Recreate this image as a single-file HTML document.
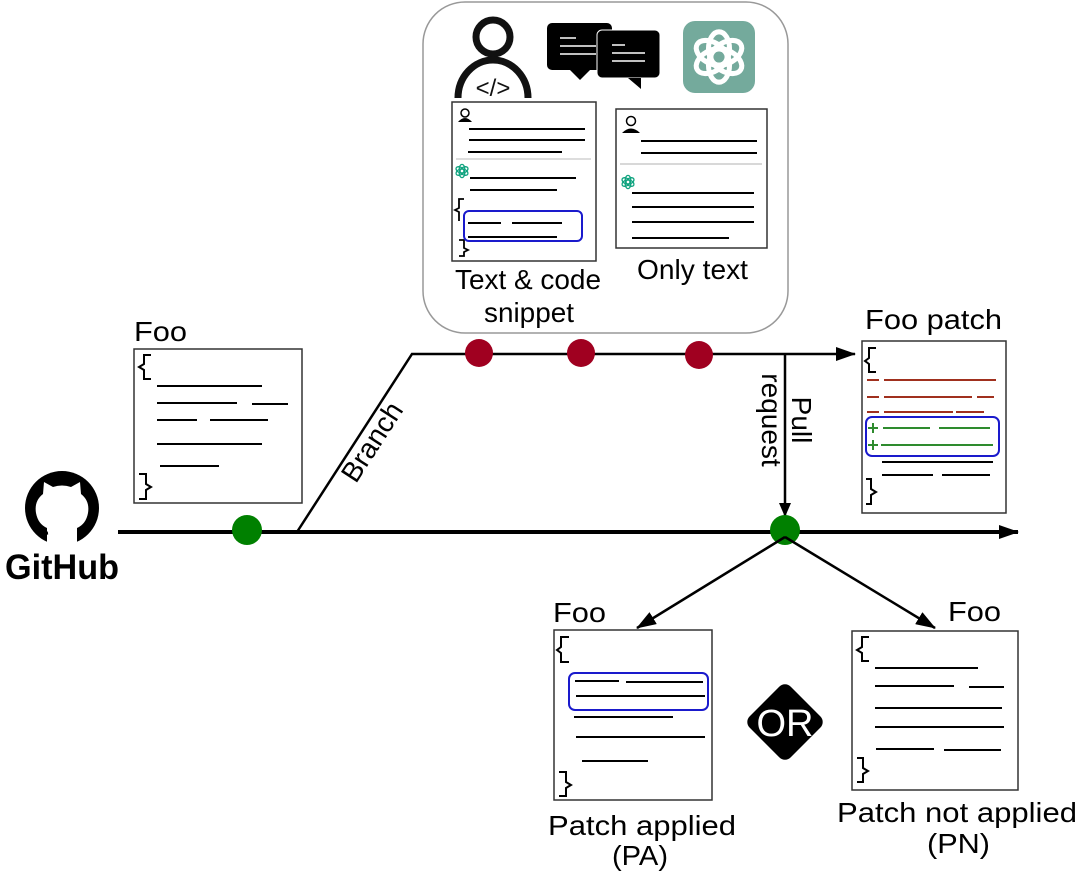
<!DOCTYPE html>
<html><head><style>
html,body{margin:0;padding:0;background:#fff;}
svg{display:block;font-family:"Liberation Sans",Arial,sans-serif;}
</style></head><body>
<svg width="1080" height="885" viewBox="0 0 1080 885" xmlns="http://www.w3.org/2000/svg">
<defs>
<marker id="ah" markerWidth="14" markerHeight="12" refX="13" refY="6" orient="auto" markerUnits="userSpaceOnUse"><path d="M0,0 L14,6 L0,12 z" fill="#000"/></marker>
<marker id="ahb" markerWidth="20" markerHeight="14" refX="19" refY="7" orient="auto" markerUnits="userSpaceOnUse"><path d="M0,0 L20,7 L0,14 z" fill="#000"/></marker>
<g id="oai"><g fill="none" stroke-width="1.2"><ellipse cx="0" cy="-2" rx="2.5" ry="4"/><ellipse cx="0" cy="-2" rx="2.5" ry="4" transform="rotate(60)"/><ellipse cx="0" cy="-2" rx="2.5" ry="4" transform="rotate(120)"/><ellipse cx="0" cy="-2" rx="2.5" ry="4" transform="rotate(180)"/><ellipse cx="0" cy="-2" rx="2.5" ry="4" transform="rotate(240)"/><ellipse cx="0" cy="-2" rx="2.5" ry="4" transform="rotate(300)"/></g></g>
</defs>

<rect x="423" y="2" width="365" height="331" rx="42" fill="#fff" stroke="#999" stroke-width="1.5"/>

<!-- person icon -->
<circle cx="493" cy="37" r="17" fill="none" stroke="#111" stroke-width="7"/>
<path d="M458,98 A35,38 0 0 1 528,98" fill="none" stroke="#111" stroke-width="7"/>
<text x="493" y="96" font-size="24" text-anchor="middle" fill="#111">&lt;/&gt;</text>

<!-- chat bubbles -->
<rect x="547" y="23" width="65" height="47" rx="5" fill="#000"/>
<path d="M570,70 L580,80 L590,70z" fill="#000"/>
<rect x="597" y="30" width="63" height="48" rx="5" fill="#000" stroke="#fff" stroke-width="1"/>
<path d="M628,78 L641,89 L641,78z" fill="#000"/>
<g stroke="#fff" stroke-width="1.5"><line x1="560" y1="38" x2="576" y2="38"/><line x1="560" y1="46" x2="596" y2="46"/><line x1="560" y1="54" x2="596" y2="54"/><line x1="612" y1="45" x2="625" y2="45"/><line x1="612" y1="53" x2="645" y2="53"/><line x1="612" y1="61" x2="645" y2="61"/></g>

<rect x="683" y="21" width="72" height="72" rx="12" fill="#74aa9c"/>
<g transform="translate(719,57) scale(4.2)" stroke="#fff"><use href="#oai"/></g>

<!-- doc 1 -->
<rect x="452" y="102" width="144" height="159" fill="#fff" stroke="#333" stroke-width="1.5"/>
<circle cx="465" cy="113" r="4" fill="none" stroke="#000" stroke-width="1.5"/><path d="M458,122 Q465,114 472,122z" fill="#000"/>
<g stroke="#000" stroke-width="2"><line x1="469" y1="129" x2="585" y2="129"/><line x1="469" y1="140" x2="585" y2="140"/><line x1="468" y1="152" x2="562" y2="152"/>
<line x1="470" y1="178" x2="576" y2="178"/><line x1="470" y1="190" x2="557" y2="190"/>
<line x1="468" y1="223" x2="501" y2="223"/><line x1="512" y1="223" x2="562" y2="223"/><line x1="468" y1="237" x2="557" y2="237"/></g>
<line x1="456" y1="159" x2="591" y2="159" stroke="#bbb" stroke-width="1"/>
<g transform="translate(462,171) scale(1.1)" stroke="#10a37f"><use href="#oai"/></g>
<path d="M464,199 L459,199 L459,208 L455,210 L459,212 L459,221" fill="none" stroke="#000" stroke-width="1.8"/>
<path d="M459,240 L464,240 L464,248 L468,250 L464,252 L464,256 L459,256" fill="none" stroke="#000" stroke-width="1.8"/>
<rect x="464" y="211" width="118" height="30" rx="5" fill="none" stroke="#1a1acc" stroke-width="2"/>

<!-- doc 2 -->
<rect x="616" y="109" width="151" height="139" fill="#fff" stroke="#333" stroke-width="1.5"/>
<circle cx="631" cy="121" r="4.5" fill="none" stroke="#000" stroke-width="1.5"/><path d="M622,133 Q631,124 640,133z" fill="#000"/>
<g stroke="#000" stroke-width="2"><line x1="641" y1="141" x2="757" y2="141"/><line x1="641" y1="153" x2="757" y2="153"/>
<line x1="632" y1="193" x2="754" y2="193"/><line x1="632" y1="207" x2="754" y2="207"/><line x1="632" y1="222" x2="754" y2="222"/><line x1="632" y1="238" x2="729" y2="238"/></g>
<line x1="620" y1="164" x2="762" y2="164" stroke="#ccc" stroke-width="1.5"/>
<g transform="translate(628,182) scale(1.1)" stroke="#10a37f"><use href="#oai"/></g>

<text x="455" y="289" font-size="28" textLength="146" lengthAdjust="spacingAndGlyphs">Text &amp; code</text>
<text x="484" y="322" font-size="28" textLength="90" lengthAdjust="spacingAndGlyphs">snippet</text>
<text x="637" y="279" font-size="28" textLength="111" lengthAdjust="spacingAndGlyphs">Only text</text>

<!-- main line -->
<line x1="118" y1="532" x2="1018" y2="532" stroke="#000" stroke-width="4" marker-end="url(#ahb)"/>
<polyline points="297,532 412,354 855,354" fill="none" stroke="#000" stroke-width="2.5" marker-end="url(#ahb)"/>
<text transform="translate(380,447) rotate(-57)" font-size="28" text-anchor="middle">Branch</text>
<line x1="785" y1="354" x2="785" y2="516" stroke="#000" stroke-width="2.5" marker-end="url(#ah)"/>
<text transform="translate(786,420) rotate(90)" font-size="28" text-anchor="middle"><tspan x="0" y="-6">Pull</tspan><tspan x="0" y="24">request</tspan></text>

<circle cx="479" cy="353" r="14" fill="#a00020"/>
<circle cx="581" cy="353" r="14" fill="#a00020"/>
<circle cx="699" cy="355" r="14" fill="#a00020"/>
<circle cx="247" cy="530" r="15" fill="#008000"/>
<circle cx="785" cy="530" r="15" fill="#008000"/>

<line x1="785" y1="537" x2="637" y2="628" stroke="#000" stroke-width="2.5" marker-end="url(#ahb)"/>
<line x1="785" y1="537" x2="935" y2="628" stroke="#000" stroke-width="2.5" marker-end="url(#ahb)"/>

<!-- github -->
<circle cx="62" cy="508" r="37" fill="#000"/>
<path d="M47,545 L47,528 Q38,524 36,513 Q34,501 43,494 L44,482 L53,487 Q62,484 71,487 L80,482 L81,494 Q90,501 88,513 Q86,524 77,528 L77,545z" fill="#fff"/>
<path d="M48,533 Q40,534 35,524" fill="none" stroke="#000" stroke-width="3"/>
<text x="62" y="579" font-size="35" font-weight="bold" text-anchor="middle" textLength="114" lengthAdjust="spacingAndGlyphs">GitHub</text>

<!-- left Foo -->
<text x="134" y="341" font-size="28" textLength="53" lengthAdjust="spacingAndGlyphs">Foo</text>
<rect x="134" y="349" width="168" height="154" fill="#fff" stroke="#333" stroke-width="1.5"/>
<path d="M151,355 L144,355 L144,364 L139,367 L144,370 L144,379 L151,379" fill="none" stroke="#000" stroke-width="2"/>
<path d="M139,474 L146,474 L146,484 L151,487 L146,490 L146,499 L139,499" fill="none" stroke="#000" stroke-width="2"/>
<g stroke="#000" stroke-width="2"><line x1="157" y1="386" x2="262" y2="386"/><line x1="157" y1="403" x2="237" y2="403"/><line x1="252" y1="404" x2="288" y2="404"/><line x1="157" y1="420" x2="197" y2="420"/><line x1="210" y1="420" x2="268" y2="420"/><line x1="157" y1="444" x2="262" y2="444"/><line x1="160" y1="466" x2="219" y2="466"/></g>

<!-- Foo patch -->
<text x="865" y="329" font-size="28" textLength="137" lengthAdjust="spacingAndGlyphs">Foo patch</text>
<rect x="862" y="341" width="144" height="172" fill="#fff" stroke="#333" stroke-width="1.5"/>
<path d="M876,348 L869,348 L869,358 L865,361 L869,364 L869,372 L876,372" fill="none" stroke="#000" stroke-width="2"/>
<path d="M866,479 L871,479 L871,489 L876,492 L871,495 L871,504 L866,504" fill="none" stroke="#000" stroke-width="2"/>
<g stroke="#a0301e" stroke-width="2"><line x1="867" y1="380" x2="879" y2="380"/><line x1="884" y1="380" x2="996" y2="380"/><line x1="867" y1="397" x2="879" y2="397"/><line x1="884" y1="397" x2="972" y2="397"/><line x1="977" y1="397" x2="994" y2="397"/><line x1="867" y1="412" x2="879" y2="412"/><line x1="884" y1="412" x2="953" y2="412"/><line x1="956" y1="412" x2="984" y2="412"/></g>
<g stroke="#2e8b2e" stroke-width="2"><line x1="868" y1="428" x2="878" y2="428"/><line x1="873" y1="423" x2="873" y2="433"/><line x1="868" y1="445" x2="878" y2="445"/><line x1="873" y1="440" x2="873" y2="450"/><line x1="883" y1="428" x2="930" y2="428"/><line x1="939" y1="428" x2="990" y2="428"/><line x1="881" y1="445" x2="993" y2="445"/></g>
<rect x="866" y="417" width="133" height="39" rx="6" fill="none" stroke="#1a1acc" stroke-width="2"/>
<g stroke="#000" stroke-width="2"><line x1="882" y1="462" x2="993" y2="462"/><line x1="882" y1="475" x2="933" y2="475"/><line x1="942" y1="475" x2="990" y2="475"/></g>

<!-- PA doc -->
<text x="553" y="622" font-size="28" textLength="53" lengthAdjust="spacingAndGlyphs">Foo</text>
<rect x="554" y="630" width="158" height="170" fill="#fff" stroke="#333" stroke-width="1.5"/>
<path d="M569,637 L561,637 L561,647 L557,650 L561,653 L561,662 L569,662" fill="none" stroke="#000" stroke-width="2"/>
<path d="M559,772 L566,772 L566,782 L571,785 L566,788 L566,796 L559,796" fill="none" stroke="#000" stroke-width="2"/>
<rect x="569" y="673" width="139" height="37" rx="6" fill="none" stroke="#1a1acc" stroke-width="2"/>
<g stroke="#000" stroke-width="2"><line x1="575" y1="681" x2="619" y2="681"/><line x1="626" y1="682" x2="703" y2="682"/><line x1="576" y1="696" x2="705" y2="696"/><line x1="574" y1="717" x2="673" y2="717"/><line x1="576" y1="737" x2="705" y2="737"/><line x1="582" y1="761" x2="648" y2="761"/></g>
<text x="548" y="835" font-size="28" textLength="188" lengthAdjust="spacingAndGlyphs">Patch applied</text>
<text x="612" y="865" font-size="28" textLength="56" lengthAdjust="spacingAndGlyphs">(PA)</text>

<!-- OR -->
<rect x="756" y="693" width="58" height="58" rx="8" transform="rotate(45 785 722)" fill="#000"/>
<text x="785" y="736" font-size="38" fill="#fff" text-anchor="middle">OR</text>

<!-- PN doc -->
<text x="948" y="621" font-size="28" textLength="53" lengthAdjust="spacingAndGlyphs">Foo</text>
<rect x="852" y="631" width="166" height="159" fill="#fff" stroke="#333" stroke-width="1.5"/>
<path d="M869,637 L862,637 L862,647 L857,650 L862,653 L862,661 L869,661" fill="none" stroke="#000" stroke-width="2"/>
<path d="M857,758 L863,758 L863,768 L868,771 L863,774 L863,782 L857,782" fill="none" stroke="#000" stroke-width="2"/>
<g stroke="#000" stroke-width="2"><line x1="875" y1="668" x2="978" y2="668"/><line x1="875" y1="686" x2="954" y2="686"/><line x1="969" y1="687" x2="1004" y2="687"/><line x1="875" y1="708" x2="1002" y2="708"/><line x1="875" y1="727" x2="1004" y2="727"/><line x1="876" y1="749" x2="934" y2="749"/><line x1="944" y1="750" x2="1001" y2="750"/></g>
<text x="837" y="822" font-size="28" textLength="240" lengthAdjust="spacingAndGlyphs">Patch not applied</text>
<text x="927" y="853" font-size="28" textLength="63" lengthAdjust="spacingAndGlyphs">(PN)</text>
</svg>
</body></html>
